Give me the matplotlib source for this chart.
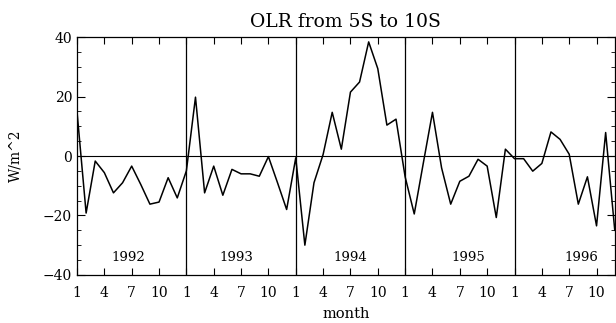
import numpy as np
import matplotlib
matplotlib.use('Agg')
import matplotlib.pyplot as plt
from matplotlib.ticker import MultipleLocator

# monthly OLR anomaly, 5S-10S, Jan 1992 .. Dec 1996
years = ['1992', '1993', '1994', '1995', '1996']
olr_1992 = [15, -19.2, -1.7, -5.6, -12.4, -9, -3.4, -9.6, -16.2, -15.5, -7.3, -14.1]
olr_1993 = [-5, 19.8, -12.4, -3.4, -13.2, -4.5, -6, -6, -6.8, -0.2, -9, -18]
olr_1994 = [-0.6, -30, -9, 0.5, 14.7, 2.3, 21.5, 24.9, 38.4, 29.4, 10.4, 12.4]
olr_1995 = [-7, -19.5, -2.3, 14.7, -4, -16.2, -8.5, -6.8, -1.1, -3.4, -20.7, 2.3]
olr_1996 = [-0.9, -0.9, -5.1, -2.5, 8.1, 5.6, 0.6, -16.2, -7, -23.5, 7.9, -25]
month_labels = ['1', '4', '7', '10']

olr = np.array(olr_1992 + olr_1993 + olr_1994 + olr_1995 + olr_1996)
t = np.arange(len(olr))

plt.rcParams['font.family'] = ['DejaVu Serif']

fig = plt.figure(figsize=(6.16, 3.23), dpi=100)
ax = fig.add_axes([0.125, 0.149, 0.873, 0.736])

ax.plot(t, olr, color='black', lw=1.1)
ax.axhline(0, color='black', lw=0.8)
for k in range(1, len(years)):
    ax.axvline(12 * k, color='black', lw=0.9)

# year names near the bottom of each panel
year_x = [5.6, 17.5, 30, 42.9, 55.3]
for x, yr in zip(year_x, years):
    ax.text(x, -34, yr, ha='center', va='center', fontsize=9.5)

ax.set_xlim(0, 59)
ax.set_ylim(-40, 40)

ticks = [12 * k + m for k in range(len(years)) for m in (0, 3, 6, 9)]
ax.set_xticks(ticks)
ax.set_xticklabels(month_labels * len(years), fontsize=10)
ax.yaxis.set_major_locator(MultipleLocator(20))
ax.yaxis.set_minor_locator(MultipleLocator(5))
ax.tick_params(axis='y', which='major', direction='in', length=6, width=0.8,
               right=True, labelsize=10)
ax.tick_params(axis='y', which='minor', direction='in', length=3, width=0.6,
               right=True)
ax.tick_params(axis='x', direction='in', length=5, width=0.8, top=True,
               pad=8)
for s in ax.spines.values():
    s.set_linewidth(0.9)

ax.set_title('OLR from 5S to 10S', fontsize=13.5, pad=7)
ax.set_xlabel('month', fontsize=10.5, labelpad=5)
ax.set_ylabel('W/m^2', fontsize=10, labelpad=15)

fig.savefig('out.png', dpi=100)
